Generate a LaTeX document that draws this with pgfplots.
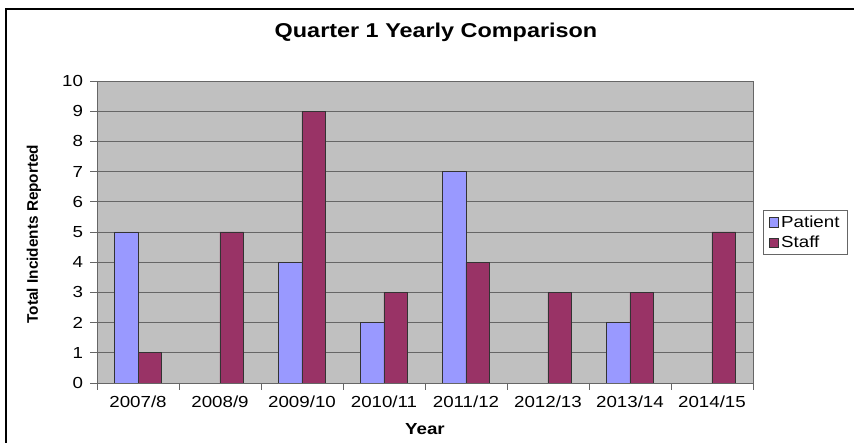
\documentclass[border=0pt]{standalone}
\usepackage{pgfplots}
\pgfplotsset{compat=1.18}
\usepackage{fontspec}
\setmainfont{Liberation Sans}[FakeStretch=1.17]
\newfontfamily\ylabfont{Liberation Sans}
\definecolor{patient}{HTML}{9999FF}
\definecolor{staff}{HTML}{993366}
\definecolor{plotbg}{HTML}{C0C0C0}
\definecolor{gridc}{HTML}{666666}
\begin{document}
\begin{tikzpicture}[x=0.75pt,y=0.75pt]
\useasboundingbox (0,0) rectangle (854,443);
\draw[line width=1.4pt] (6,-10) -- (6,434) -- (870,434);
\node[font=\fontsize{15}{18}\selectfont\bfseries] at (436,411) {Quarter 1 Yearly Comparison};
\node[font=\fontsize{12}{14}\selectfont\bfseries] at (425,14) {Year};
\node[rotate=90,font=\ylabfont\fontsize{11.5}{14}\selectfont\bfseries] at (34,209) {Total Incidents Reported};
\begin{axis}[
  at={(72.75pt,45pt)}, anchor=south west,
  scale only axis, width=492pt, height=226.5pt,
  xmin=-0.5, xmax=7.5, ymin=0, ymax=10,
  axis background/.style={fill=plotbg},
  axis line style={draw=gridc},
  ytick={0,...,10},
  ymajorgrids, major grid style={draw=gridc, line width=0.6pt},
  xtick={-0.5,0.5,...,7.5}, xticklabels={},
  extra x ticks={0,...,7},
  extra x tick labels={2007/8,2008/9,2009/10,2010/11,2011/12,2012/13,2013/14,2014/15},
  extra x tick style={major tick length=0pt, grid=none, xticklabel style={yshift=-6pt}},
  yticklabel style={xshift=-2pt},
  tick align=outside, major tick length=5pt,
  tick style={draw=gridc, line width=0.6pt},
  xtick pos=bottom, ytick pos=left,
  tick label style={font=\fontsize{12}{14}\selectfont},
  /pgf/number format/assume math mode=true,
  ybar, bar width=0.287,
  legend style={at={(1.0152,0.573)}, anchor=north west, draw=gridc, fill=white,
    font=\fontsize{12}{14}\selectfont, inner xsep=4pt, inner ysep=2pt,
    row sep=1pt, legend cell align=left},
  legend image code/.code={\draw[#1,line width=0.5pt] (0pt,-3.5pt) rectangle (7pt,3.5pt);},
]
% Patient: 2008/9, 2012/13 and 2014/15 are 0 (no bar drawn)
\addplot[fill=patient, draw=black!80, line width=0.6pt, bar shift=-0.1435] coordinates {(0,5) (2,4) (3,2) (4,7) (6,2)};
\addplot[fill=staff, draw=black!80, line width=0.6pt, bar shift=0.1435] coordinates {(0,1) (1,5) (2,9) (3,3) (4,4) (5,3) (6,3) (7,5)};
\legend{Patient,Staff}
\end{axis}
\end{tikzpicture}
\end{document}
